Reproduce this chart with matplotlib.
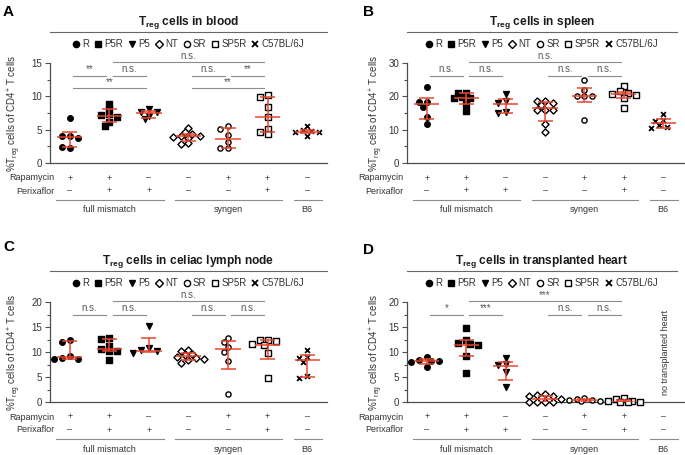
import numpy as np
import matplotlib.pyplot as plt
from matplotlib.lines import Line2D

plt.rcParams['font.family'] = ['Liberation Sans', 'DejaVu Sans']
plt.rcParams['mathtext.fontset'] = 'custom'
plt.rcParams['mathtext.rm'] = 'Liberation Sans'
plt.rcParams['mathtext.bf'] = 'Liberation Sans:bold'

# groups and treatment table
groups = ['R', 'P5R', 'P5', 'NT', 'SR', 'SP5R', 'C57BL/6J']
rapamycin = ['+', '+', '–', '–', '+', '+', '–']
perixaflor = ['–', '+', '+', '–', '–', '+', '–']
cohorts = ['full mismatch', 'syngen', 'B6']
cohort_span = [(0, 2), (3, 5), (6, 6)]

# A: blood
blood = [[6.7, 4.0, 4.0, 3.7, 2.3, 2.4],
         [8.9, 8.1, 7.3, 7.15, 6.9, 6.1, 5.55],
         [8.05, 7.7, 7.6, 7.1, 6.55],
         [5.3, 4.7, 4.35, 4.1, 4.0, 3.9, 3.8, 3.0, 2.8],
         [5.6, 5.1, 4.2, 3.1, 2.3, 2.3],
         [10.2, 9.85, 8.45, 6.85, 5.1, 4.6, 4.3],
         [5.5, 4.9, 4.75, 4.7, 4.6, 4.1]]
blood_med = [3.85, 7.1, 7.55, 4.1, 3.6, 6.85, 4.7]
blood_lo = [2.4, 6.1, 6.8, 3.3, 2.3, 4.6, 4.5]
blood_hi = [4.7, 8.1, 7.8, 4.4, 5.3, 9.85, 5.0]
blood_sig = [(1, 5, 0, 'n.s.'), (0, 1, 1, '**'), (1, 2, 1, 'n.s.'),
             (3, 4, 1, 'n.s.'), (4, 5, 1, '**'), (0, 2, 2, '**'), (3, 5, 2, '**')]

# B: spleen
spleen = [[22.9, 18.4, 18.4, 16.9, 13.9, 11.6],
          [20.9, 20.9, 19.7, 19.6, 19.5, 17.6, 15.6],
          [20.6, 18.7, 17.9, 15.2, 14.9],
          [18.7, 18.6, 18.0, 17.5, 16.0, 15.9, 15.8, 11.6, 9.4],
          [24.9, 21.9, 20.2, 20.2, 20.2, 12.9],
          [23.1, 21.6, 20.9, 20.8, 20.5, 19.6, 16.6],
          [14.6, 12.9, 12.6, 11.4, 10.7, 10.5]]
spleen_med = [17.6, 19.6, 17.7, 16.5, 20.2, 20.6, 11.9]
spleen_lo = [13.2, 17.8, 14.9, 12.6, 18.4, 19.4, 10.6]
spleen_hi = [19.6, 20.9, 19.2, 18.2, 22.6, 21.4, 13.3]
spleen_sig = [(1, 5, 0, 'n.s.'), (0, 1, 1, 'n.s.'), (1, 2, 1, 'n.s.'),
              (3, 4, 1, 'n.s.'), (4, 5, 1, 'n.s.')]

# C: celiac lymph node
lymph = [[12.4, 12.1, 9.3, 8.75, 8.65, 8.6],
         [12.9, 12.7, 11.3, 10.6, 10.2, 10.2, 8.4],
         [15.3, 10.8, 10.4, 10.3, 9.9],
         [10.4, 10.2, 9.6, 9.4, 9.0, 8.8, 8.7, 8.4, 7.8],
         [12.9, 12.1, 11.1, 10.1, 8.3, 1.6],
         [12.5, 12.4, 12.3, 11.7, 11.5, 9.8, 4.9],
         [10.4, 9.1, 8.9, 8.1, 5.2, 4.9]]
lymph_med = [9.0, 10.6, 10.2, 9.2, 10.7, 11.5, 8.5]
lymph_lo = [8.7, 10.2, 10.1, 8.4, 6.7, 8.6, 5.1]
lymph_hi = [12.2, 12.7, 12.9, 9.9, 12.2, 12.5, 9.5]
lymph_sig = [(1, 5, 0, 'n.s.'), (0, 1, 1, 'n.s.'), (1, 2, 1, 'n.s.'),
             (3, 4, 1, 'n.s.'), (4, 5, 1, 'n.s.')]

# D: transplanted heart (no B6 data)
heart = [[9.1, 8.5, 8.3, 8.2, 8.1, 7.1],
         [14.9, 12.4, 11.8, 11.6, 11.5, 9.3, 5.8],
         [8.9, 7.6, 7.4, 6.1, 3.1],
         [1.6, 1.4, 1.3, 1.2, 0.7, 0.1, 0.05, 0.0, 0.0],
         [0.9, 0.7, 0.4, 0.35, 0.3, 0.2],
         [0.8, 0.7, 0.3, 0.2, 0.1, 0.05, 0.0],
         []]
heart_med = [8.2, 11.5, 7.2, 0.55, 0.34, 0.1, None]
heart_lo = [7.7, 9.3, 4.4, 0.07, 0.1, 0.0, None]
heart_hi = [8.7, 12.4, 8.1, 1.2, 0.55, 0.4, None]
heart_sig = [(1, 5, 0, '***'), (0, 1, 1, '*'), (1, 2, 1, '***'),
             (3, 4, 1, 'n.s.'), (4, 5, 1, 'n.s.')]

markers = ['o', 's', 'v', 'D', 'o', 's', 'x']
filled = [True, True, True, False, False, False, True]
msize = [16, 14, 18, 13, 14, 13, 12]
RED = '#e8462e'
GREY = '0.55'
W, H = 685, 455
XPX = 39.5  # pixels per group on x


def swarm(vals, ppu, step=0.1, gap=5.3, nmax=4):
    # beeswarm: nearest free offset to the centre, bounded width
    placed, offs = [], []
    cands = [0]
    for n in range(1, nmax + 1):
        cands += [-n * step, n * step]
    for v in vals:
        best, bestd = None, -1
        for c in cands:
            d = min([np.hypot((v - pv) * ppu, (c - pc) * XPX) for pv, pc in placed] + [99])
            if d >= gap:
                best = c
                break
            if d > bestd:
                best, bestd = c, d
        placed.append((v, best))
        offs.append(best)
    return offs


def panel(rect, letter, letter_xy, title, data, med, lo, hi, sig, ymax, step,
          xr, lab_x, title_end, ylab_x):
    ax = fig.add_axes([rect[0] / W, 1 - (rect[1] + 100) / H, rect[2] / W, 100 / H])
    ppu = 100 / ymax
    for k, vals in enumerate(data):
        if len(vals) == 0:
            continue
        off = swarm(vals, ppu)
        fc = 'black' if filled[k] else 'white'
        ax.scatter(k + np.array(off), vals, marker=markers[k], s=msize[k],
                   facecolor=fc, edgecolor='black',
                   linewidth=1.3 if markers[k] == 'x' else 1.0, zorder=3, clip_on=False)
        ax.hlines(med[k], k - 0.32, k + 0.32, color=RED, lw=1.1, zorder=4)
        ax.hlines([lo[k], hi[k]], k - 0.19, k + 0.19, color=RED, lw=1.1, zorder=4)
        ax.vlines(k, lo[k], hi[k], color=RED, lw=1.1, zorder=4)

    ax.set_xlim(-0.5, xr)
    ax.set_ylim(0, ymax)
    ax.set_yticks(np.arange(0, ymax + 0.1, step))
    ax.set_yticks(np.arange(step / 2, ymax, step), minor=True)
    ax.set_xticks([])
    for s in ['top', 'right']:
        ax.spines[s].set_visible(False)
    for s in ['left', 'bottom']:
        ax.spines[s].set_color('0.3')
        ax.spines[s].set_linewidth(0.9)
    ax.tick_params(axis='y', which='major', length=3.5, width=0.8, color='0.3',
                   labelsize=7, labelcolor='0.2', pad=2)
    ax.tick_params(axis='y', which='minor', length=2, width=0.8, color='0.3')
    ax.set_ylabel(r'%T$_{\rm reg}$ cells of CD4$^{+}$ T cells', fontsize=7, color='0.2')
    ax.yaxis.set_label_coords(ylab_x, 0.5)

    tr = ax.get_xaxis_transform()
    levels = [1.007, 0.875, 0.747]
    for i, j, lev, txt in sig:
        y = levels[lev]
        ax.plot([i + 0.08, j - 0.08], [y, y], color=GREY, lw=0.8, transform=tr, clip_on=False)
        ax.text((i + j) / 2, y + 0.012, txt, transform=tr, ha='center', va='bottom',
                fontsize=7, color='0.35')

    # treatment table
    for k in range(len(groups)):
        ax.text(k, -0.15, rapamycin[k], transform=tr, ha='center', va='center',
                fontsize=6.5, color='0.2')
        ax.text(k, -0.28, perixaflor[k], transform=tr, ha='center', va='center',
                fontsize=6.5, color='0.2')
    ax.text(lab_x, -0.15, 'Rapamycin', transform=tr, ha='right', va='center',
            fontsize=6.5, color='0.2')
    ax.text(lab_x, -0.28, 'Perixaflor', transform=tr, ha='right', va='center',
            fontsize=6.5, color='0.2')
    for name, (a, b) in zip(cohorts, cohort_span):
        ax.plot([a - 0.34, b + 0.37], [-0.37, -0.37], color=GREY, lw=0.8,
                transform=tr, clip_on=False)
        ax.text((a + b) / 2, -0.47, name, transform=tr, ha='center', va='center',
                fontsize=6.5, color='0.2')

    # title, rule and legend
    ax.text(title_end / 2, 1.41, title, transform=ax.transAxes, ha='center',
            va='center', fontsize=8.6, fontweight='bold', color='0.1')
    ax.plot([0, title_end], [1.31, 1.31], color='0.4', lw=0.8,
            transform=ax.transAxes, clip_on=False)
    handles = [Line2D([], [], ls='', marker=markers[k], ms=4.5 if markers[k] != 'D' else 4.0,
                      mfc='black' if filled[k] else 'white', mec='black',
                      mew=1.3 if markers[k] == 'x' else 1.0) for k in range(len(groups))]
    ax.legend(handles, groups, ncol=7, loc='center', bbox_to_anchor=(title_end / 2, 1.19),
              frameon=False, fontsize=7, handlelength=0.7, handletextpad=0.3,
              columnspacing=0.55, borderaxespad=0, borderpad=0, labelcolor='0.2')

    fig.text(letter_xy[0] / W, 1 - letter_xy[1] / H, letter, fontsize=11,
             fontweight='bold', ha='left', va='top')
    return ax


fig = plt.figure(figsize=(6.85, 4.55), dpi=100)

panel((50, 63, 277), 'A', (3, 5), r'T$_{\mathbf{reg}}$ cells in blood',
      blood, blood_med, blood_lo, blood_hi, blood_sig, 15, 5, 6.5, -0.38, 1.0, -0.097)
panel((407, 63, 278), 'B', (363, 5), r'T$_{\mathbf{reg}}$ cells in spleen',
      spleen, spleen_med, spleen_lo, spleen_hi, spleen_sig, 30, 10, 6.55, -0.58, 0.97, -0.078)
panel((50, 302, 277), 'C', (3, 240), r'T$_{\mathbf{reg}}$ cells in celiac lymph node',
      lymph, lymph_med, lymph_lo, lymph_hi, lymph_sig, 20, 5, 6.5, -0.38, 1.0, -0.097)
axd = panel((407, 302, 278), 'D', (363, 243), r'T$_{\mathbf{reg}}$ cells in transplanted heart',
            heart, heart_med, heart_lo, heart_hi, heart_sig, 20, 5, 6.55, -0.58, 0.97, -0.078)
axd.text(6.05, 0.5, 'no transplanted heart', transform=axd.get_xaxis_transform(),
         rotation=90, ha='center', va='center', fontsize=6.5, color='0.2')

fig.savefig('out.png', dpi=100)
